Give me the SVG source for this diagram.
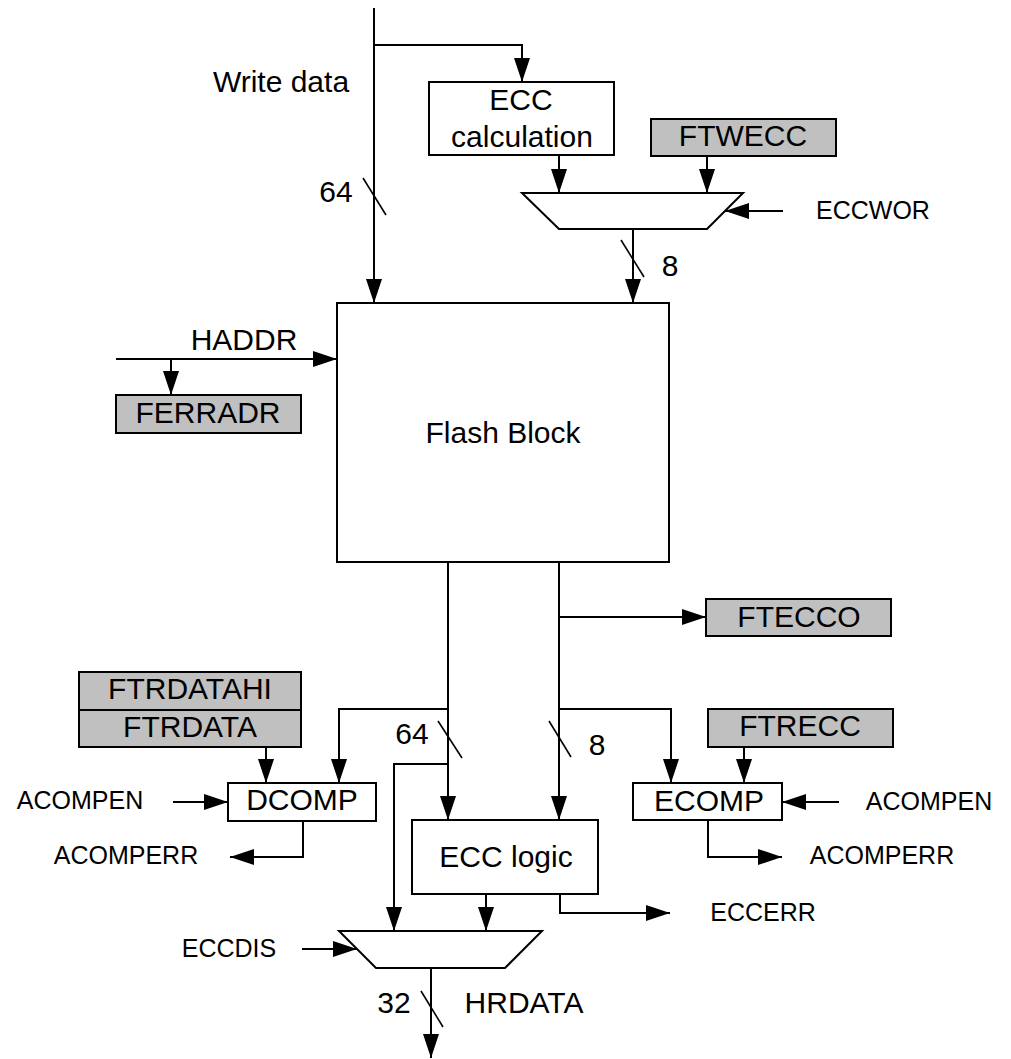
<svg xmlns="http://www.w3.org/2000/svg" width="1011" height="1059" viewBox="0 0 1011 1059">
<defs>
<marker id="arr" markerUnits="userSpaceOnUse" markerWidth="24" markerHeight="16" refX="24" refY="8" orient="auto">
<path d="M0,0 L24,8 L0,16 z" fill="#000"/>
</marker>
<style>
.box{fill:#fff;stroke:#000;stroke-width:2}
.reg{fill:#c0c0c0;stroke:#000;stroke-width:2}
.mux{fill:#fff;stroke:#000;stroke-width:2}
.w{fill:none;stroke:#000;stroke-width:2}
.a{fill:none;stroke:#000;stroke-width:2;marker-end:url(#arr)}
.s{fill:none;stroke:#000;stroke-width:1.6}
text{font-family:"Liberation Sans",Arial,sans-serif;fill:#000;text-anchor:middle}
.L{font-size:30px}
.S{font-size:25px}
</style>
</defs>
<rect width="1011" height="1059" fill="#fff"/>

<g id="connectors">
<path class="a" d="M374,8 V303"/>
<path class="a" d="M374,45 H522 V82"/>
<path class="a" d="M559,155 V193"/>
<path class="a" d="M707,156 V193"/>
<path class="a" d="M783,211 H725"/>
<path class="a" d="M633,229 V303"/>
<path class="s" d="M363,178 L386,215"/>
<path class="s" d="M621,240 L644,277"/>
<path class="a" d="M116,359 H337"/>
<path class="a" d="M171,359 V395"/>
<path class="a" d="M448,562 V820"/>
<path class="a" d="M448,709 H339 V783"/>
<path class="a" d="M448,764 H394 V931"/>
<path class="s" d="M438,721 L462,758"/>
<path class="a" d="M559,562 V820"/>
<path class="a" d="M559,617 H706"/>
<path class="a" d="M559,709 H671 V783"/>
<path class="s" d="M549,721 L571,757"/>
<path class="a" d="M266,747 V783"/>
<path class="a" d="M744,747 V783"/>
<path class="a" d="M173,802 H228"/>
<path class="a" d="M303,821 V857 H230"/>
<path class="a" d="M839,802 H782"/>
<path class="a" d="M708,820 V857 H782"/>
<path class="a" d="M486,894 V931"/>
<path class="a" d="M560,894 V913 H670"/>
<path class="a" d="M302,949 H357"/>
<path class="a" d="M431,968 V1058"/>
<path class="s" d="M421,991 L443,1027"/>
</g>

<g id="labels">
<text class="L" x="281" y="92">Write data</text>
<text class="L" x="336" y="202">64</text>
<text class="L" x="670" y="276">8</text>
<text class="S" x="873" y="219">ECCWOR</text>
<text class="L" x="244" y="350">HADDR</text>
<text class="L" x="412" y="744">64</text>
<text class="L" x="597" y="755">8</text>
<text class="S" x="80" y="809">ACOMPEN</text>
<text class="S" x="126" y="864">ACOMPERR</text>
<text class="S" x="929" y="810">ACOMPEN</text>
<text class="S" x="882" y="864">ACOMPERR</text>
<text class="S" x="763" y="921">ECCERR</text>
<text class="S" x="229" y="957">ECCDIS</text>
<text class="L" x="394" y="1013">32</text>
<text class="L" x="524" y="1013">HRDATA</text>
</g>

<g id="ecc-calc">
<rect class="box" x="429" y="82" width="185" height="73"/>
<text class="L" x="521" y="110">ECC</text>
<text class="L" x="522" y="147">calculation</text>
</g>
<g id="ftwecc">
<rect class="reg" x="651" y="119" width="185" height="37"/>
<text class="L" x="743" y="146">FTWECC</text>
</g>
<g id="mux-write">
<polygon class="mux" points="522,193 743,193 707,229 559,229"/>
</g>
<g id="flash-block">
<rect class="box" x="337" y="303" width="332" height="259"/>
<text class="L" x="503" y="443">Flash Block</text>
</g>
<g id="ferradr">
<rect class="reg" x="116" y="395" width="185" height="38"/>
<text class="L" x="208" y="423">FERRADR</text>
</g>
<g id="ftecco">
<rect class="reg" x="706" y="599" width="185" height="37"/>
<text class="L" x="799" y="627">FTECCO</text>
</g>
<g id="ftrdata">
<rect class="reg" x="79" y="672" width="222" height="38"/>
<text class="L" x="190" y="699">FTRDATAHI</text>
<rect class="reg" x="79" y="710" width="222" height="37"/>
<text class="L" x="190" y="737">FTRDATA</text>
</g>
<g id="ftrecc">
<rect class="reg" x="708" y="709" width="185" height="38"/>
<text class="L" x="800" y="736">FTRECC</text>
</g>
<g id="dcomp">
<rect class="box" x="228" y="783" width="148" height="38"/>
<text class="L" x="302" y="810">DCOMP</text>
</g>
<g id="ecomp">
<rect class="box" x="633" y="783" width="149" height="37"/>
<text class="L" x="709" y="811">ECOMP</text>
</g>
<g id="ecc-logic">
<rect class="box" x="412" y="820" width="186" height="74"/>
<text class="L" x="506" y="867">ECC logic</text>
</g>
<g id="mux-read">
<polygon class="mux" points="339,931 542,931 505,968 376,968"/>
</g>
</svg>
